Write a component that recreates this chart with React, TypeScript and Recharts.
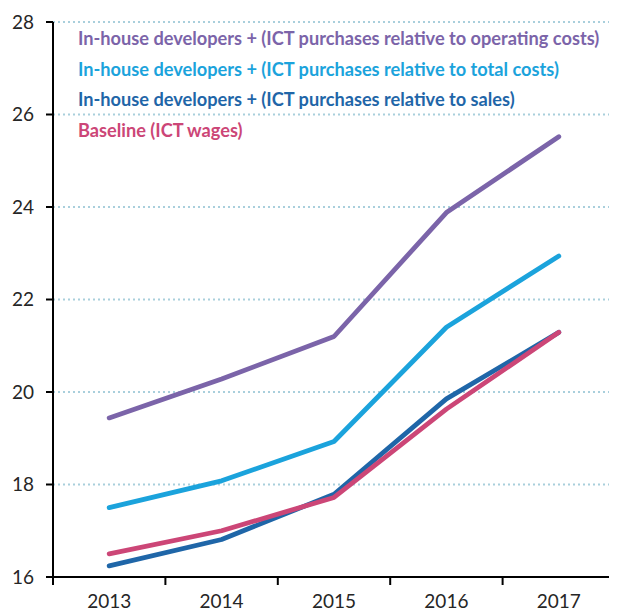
import * as React from 'react';
import { LineChart, Line, XAxis, YAxis, CartesianGrid } from 'recharts';

const years = ['2013', '2014', '2015', '2016', '2017'];
const operatingCosts = [19.44, 20.28, 21.2, 23.88, 25.52];
const totalCosts = [17.5, 18.08, 18.93, 21.4, 22.94];
const sales = [16.24, 16.81, 17.79, 19.85, 21.29];
const baseline = [16.5, 17.0, 17.72, 19.63, 21.29];
const yTicks = [16, 18, 20, 22, 24, 26, 28];

const seriesInfo = [
    { key: 'operating', name: 'In-house developers + (ICT purchases relative to operating costs)', color: '#7b64a9' },
    { key: 'total', name: 'In-house developers + (ICT purchases relative to total costs)', color: '#1ba3dc' },
    { key: 'sales', name: 'In-house developers + (ICT purchases relative to sales)', color: '#1f66a8' },
    { key: 'baseline', name: 'Baseline (ICT wages)', color: '#cc4677' },
];

const data = years.map((year, i) => ({
    year,
    operating: operatingCosts[i],
    total: totalCosts[i],
    sales: sales[i],
    baseline: baseline[i],
}));

const FONT = 'Lato, "Open Sans", sans-serif';
const PLOT_W = 562;
const BAND = PLOT_W / years.length;

const XTick: React.FC<any> = ({ x, y, payload, index }) => {
    const last = index === years.length - 1;
    return (
        <g>
            <line x1={x - BAND / 2} x2={x - BAND / 2} y1={y} y2={y + 8} stroke="#000" strokeWidth={2} />
            {last && <line x1={x + BAND / 2} x2={x + BAND / 2} y1={y} y2={y + 8} stroke="#000" strokeWidth={2} />}
            <text x={x} y={y + 31} textAnchor="middle" fontSize={19} fill="#262626" fontFamily={FONT}>
                {payload.value}
            </text>
        </g>
    );
};

const App: React.FC = () => {
    return (
        <div style={{ position: 'relative', width: 609, height: 604 }}>
            <LineChart width={609} height={604} data={data} margin={{ top: 14, right: 2, left: 0, bottom: 0 }}>
                <CartesianGrid vertical={false} stroke="#a9cfdc" strokeWidth={2} strokeDasharray="2 3" />
                <XAxis
                    dataKey="year"
                    height={35}
                    padding={{ left: BAND / 2, right: BAND / 2 }}
                    axisLine={{ stroke: '#000', strokeWidth: 2 }}
                    tickLine={false}
                    tickSize={0}
                    tickMargin={0}
                    tick={<XTick />}
                    interval={0}
                />
                <YAxis
                    width={45}
                    domain={[16, 28]}
                    ticks={yTicks}
                    axisLine={{ stroke: '#000', strokeWidth: 2 }}
                    tickLine={{ stroke: '#000', strokeWidth: 2 }}
                    tickSize={7}
                    tickMargin={12}
                    tick={{ fontSize: 19, fill: '#262626', fontFamily: FONT }}
                />
                {seriesInfo.map((s) => (
                    <Line
                        key={s.key}
                        type="linear"
                        dataKey={s.key}
                        name={s.name}
                        stroke={s.color}
                        strokeWidth={4.8}
                        strokeLinecap="round"
                        strokeLinejoin="round"
                        dot={false}
                        activeDot={false}
                        isAnimationActive={false}
                    />
                ))}
            </LineChart>
            <div
                style={{
                    position: 'absolute',
                    left: 70,
                    top: 15,
                    fontFamily: FONT,
                    fontWeight: 700,
                    fontSize: 18.2,
                    lineHeight: '30.5px',
                    pointerEvents: 'none',
                }}
            >
                {seriesInfo.map((s) => (
                    <div key={s.key} style={{ color: s.color, whiteSpace: 'nowrap' }}>{s.name}</div>
                ))}
            </div>
        </div>
    );
};

export default App;
